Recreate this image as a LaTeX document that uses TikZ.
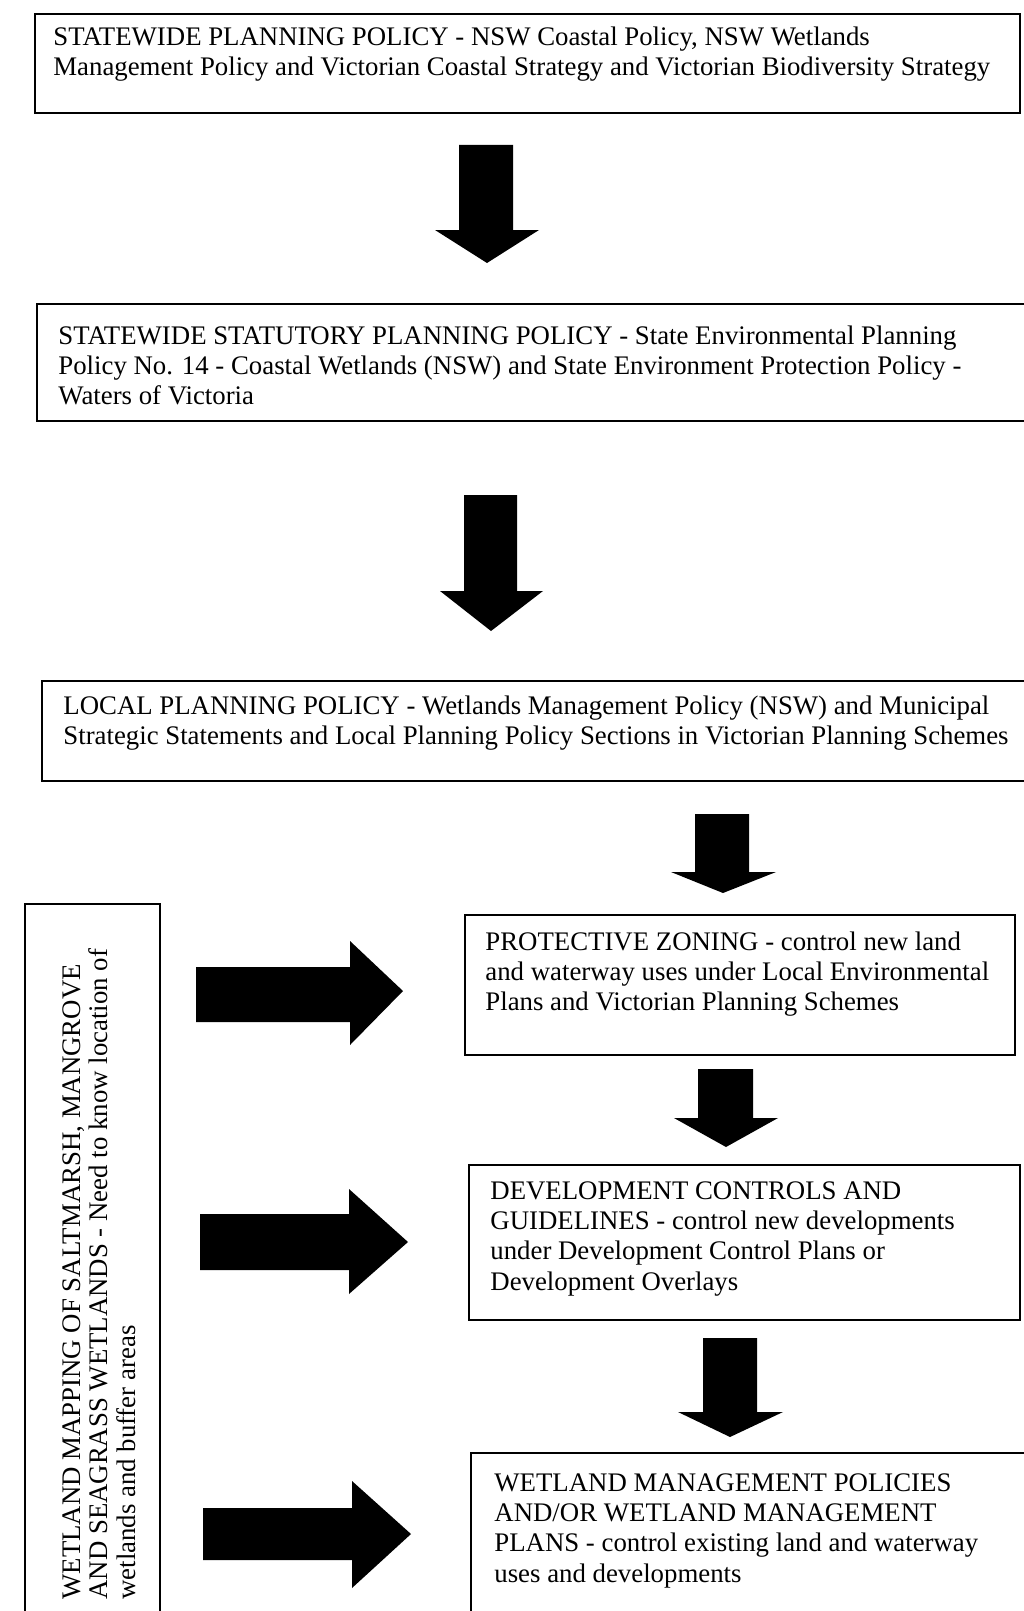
\documentclass[tikz,border=0pt]{standalone}
\usepackage{fontspec}
\setmainfont{Liberation Serif}

\begin{document}
\begin{tikzpicture}[x=0.5pt,y=-0.5pt,
    box/.style={line width=1.1pt},
    txt/.style={anchor=base west,inner sep=0pt,align=left,font=\fontsize{13.4}{15.2}\selectfont},
    blk/.style={fill=black}]
    \useasboundingbox (0,0) rectangle (1023,1611);
    % policy boxes (base = last line)
    \draw[box](35,14) rectangle (1020,113);
    \node[txt] (statewide) at (53,75.4){STATEWIDE PLANNING POLICY - NSW Coastal Policy, NSW Wetlands\\Management Policy and Victorian Coastal Strategy and Victorian Biodiversity Strategy};
    \draw[box](37,304) rectangle (1030,421);
    \node[txt] (statutory) at (58,404.8){STATEWIDE STATUTORY PLANNING POLICY - State Environmental Planning\\Policy No. 14 - Coastal Wetlands (NSW) and State Environment Protection Policy -\\Waters of Victoria};
    \draw[box](42,681) rectangle (1030,781);
    \node[txt] (local) at (63,744.4){LOCAL PLANNING POLICY - Wetlands Management Policy (NSW) and Municipal\\Strategic Statements and Local Planning Policy Sections in Victorian Planning Schemes};
    % mapping box
    \draw[box](25,904) rectangle (160,1630);
    \node[txt,rotate=90,font=\fontsize{13.4}{13.75}\selectfont] (mapping) at (135,1600){WETLAND MAPPING OF SALTMARSH, MANGROVE\\AND SEAGRASS WETLANDS - Need to know location of\\wetlands and buffer areas};
    % control boxes
    \draw[box](465,915) rectangle (1015,1055);
    \node[txt] (zoning) at (485,1010.8){PROTECTIVE ZONING - control new land\\and waterway uses under Local Environmental\\Plans and Victorian Planning Schemes};
    \draw[box](469,1165) rectangle (1020,1320);
    \node[txt] (controls) at (490,1290.2){DEVELOPMENT CONTROLS AND\\GUIDELINES - control new developments\\under Development Control Plans or\\Development Overlays};
    \draw[box](471,1453) rectangle (1030,1630);
    \node[txt] (management) at (494,1582.2){WETLAND MANAGEMENT POLICIES\\AND/OR WETLAND MANAGEMENT\\PLANS - control existing land and waterway\\uses and developments};
    % down arrows
    \fill[blk](459,145)--(513,145)--(513,230)--(539,230)--(487,263)--(435,230)--(459,230)--cycle;
    \fill[blk](464,495)--(517,495)--(517,591)--(543,591)--(491,631)--(440,591)--(464,591)--cycle;
    \fill[blk](695,814)--(749,814)--(749,872)--(776,872)--(723,893)--(671,872)--(695,872)--cycle;
    \fill[blk](698,1069)--(753,1069)--(753,1118)--(778,1118)--(726,1147)--(674,1118)--(698,1118)--cycle;
    \fill[blk](703,1338)--(757,1338)--(757,1412)--(783,1412)--(730,1437)--(678,1412)--(703,1412)--cycle;
    % right arrows
    \fill[blk](196,967)--(350,967)--(350,941)--(403,991)--(350,1045)--(350,1022)--(196,1022)--cycle;
    \fill[blk](200,1214)--(349,1214)--(349,1189)--(408,1242)--(349,1294)--(349,1270)--(200,1270)--cycle;
    \fill[blk](203,1508)--(352,1508)--(352,1481)--(411,1534)--(352,1588)--(352,1560)--(203,1560)--cycle;
\end{tikzpicture}
\end{document}
